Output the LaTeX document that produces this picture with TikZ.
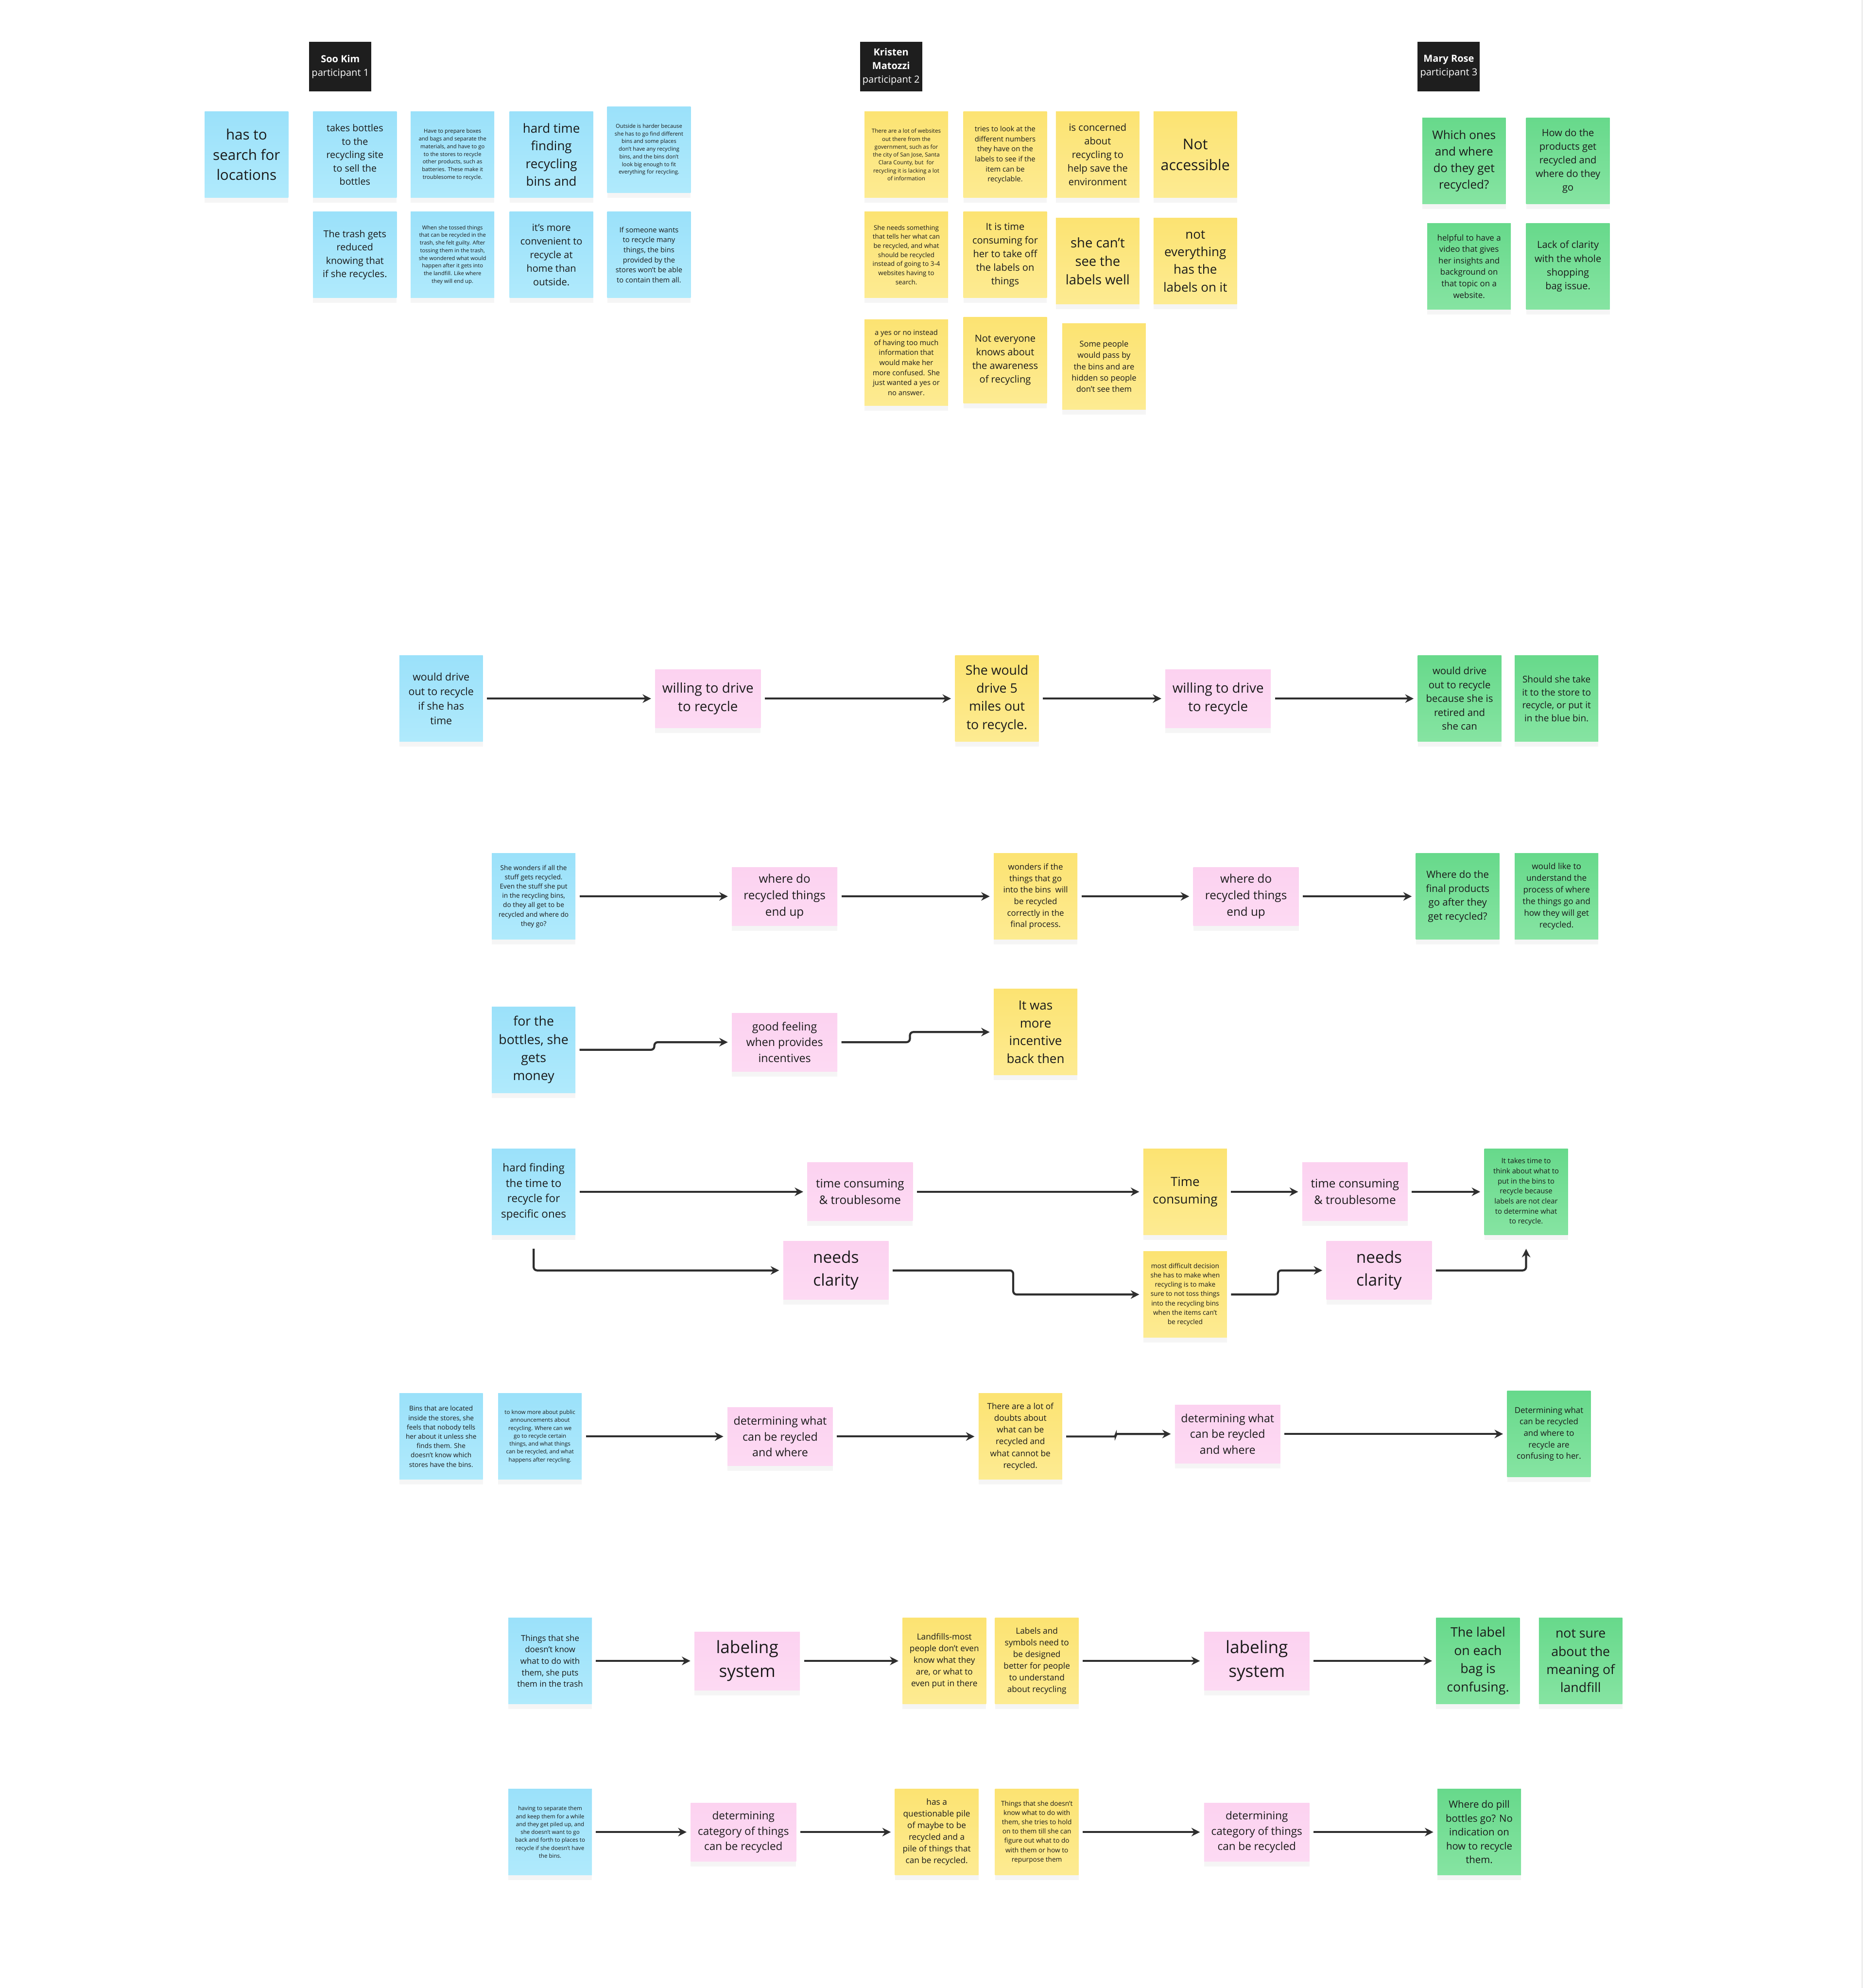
\documentclass[tikz,border=0pt]{standalone}
\usepackage{fontspec}
\setmainfont{Open Sans}
\usetikzlibrary{arrows.meta,shadows}

\definecolor{ink}{HTML}{1A1A1A}
\definecolor{headbg}{HTML}{1E1E1E}
\definecolor{arrowgray}{HTML}{2E2E2E}
\definecolor{bluetop}{HTML}{9BE1FA}
\definecolor{bluebot}{HTML}{B0EAFC}
\definecolor{yellowtop}{HTML}{FCE372}
\definecolor{yellowbot}{HTML}{FDEB92}
\definecolor{greentop}{HTML}{67D98B}
\definecolor{greenbot}{HTML}{86E4A2}
\definecolor{pinktop}{HTML}{FCD2F0}
\definecolor{pinkbot}{HTML}{FDDAF3}

\tikzset{
  fs/.style={font=\fontsize{#1pt}{\the\dimexpr#1pt*14/10\relax}\selectfont},
  note/.style={rectangle, inner sep=0pt, align=center, text=ink,
    minimum width=1.72cm, minimum height=1.77cm,
    drop shadow={opacity=0.08, shadow xshift=0pt, shadow yshift=-3pt}},
  bluenote/.style={note, top color=bluetop, bottom color=bluebot},
  yellownote/.style={note, top color=yellowtop, bottom color=yellowbot},
  greennote/.style={note, top color=greentop, bottom color=greenbot},
  pinknote/.style={note, minimum width=2.17cm, minimum height=1.2cm, top color=pinktop, bottom color=pinkbot},
  person/.style={rectangle, inner sep=0pt, align=center, fill=headbg, text=white,
    minimum width=1.28cm, minimum height=1.02cm},
  arr/.style={draw=arrowgray, line width=1.2pt, -{Stealth[length=5pt,width=5pt]},
    shorten <=2.2pt, shorten >=2.2pt},
  edge/.style={draw=black!10, line width=0.6pt}
}

\begin{document}
\begin{tikzpicture}[x=0.02609cm, y=-0.02609cm]
\useasboundingbox (0,0) rectangle (1472,1568);
\draw[edge] (1469,0) -- (1469,1568);

% participants
\node[person, fs=5.7] (sooKim) at (268.5,52.5) {\textbf{Soo Kim}\\participant 1};
\node[person, fs=5.7] (kristen) at (703,52.5) {\textbf{Kristen}\\\textbf{Matozzi}\\participant 2};
\node[person, fs=5.7] (maryRose) at (1143,52.5) {\textbf{Mary Rose}\\participant 3};

% participant 1
\node[bluenote, fs=8.4] (skSearch) at (194.5,122) {has to\\search for\\locations};
\node[bluenote, fs=5.6] (skBottles) at (280,122) {takes bottles\\to the\\recycling site\\to sell the\\bottles};
\node[bluenote, fs=3.2] (skPrepare) at (357,122) {Have to prepare boxes\\and bags and separate the\\materials, and have to go\\to the stores to recycle\\other products, such as\\batteries. These make it\\troublesome to recycle.};
\node[bluenote, fs=7.4] (skBins) at (435,122) {hard time\\finding\\recycling\\bins and};
\node[bluenote, fs=3.2] (skOutside) at (512,118) {Outside is harder because\\she has to go find different\\bins and some places\\don't have any recycling\\bins, and the bins don't\\look big enough to fit\\everything for recycling.};
\node[bluenote, fs=5.6] (skTrash) at (280,201) {The trash gets\\reduced\\knowing that\\if she recycles.};
\node[bluenote, fs=3.2] (skTossed) at (357,201) {When she tossed things\\that can be recycled in the\\trash, she felt guilty. After\\tossing them in the trash,\\she wondered what would\\happen after it gets into\\the landfill. Like where\\they will end up.};
\node[bluenote, fs=5.7] (skHome) at (435,201) {it's more\\convenient to\\recycle at\\home than\\outside.};
\node[bluenote, fs=4.2] (skMany) at (512,201) {If someone wants\\to recycle many\\things, the bins\\provided by the\\stores won't be able\\to contain them all.};

% participant 2
\node[yellownote, fs=3.3] (kmWebsites) at (715,122) {There are a lot of websites\\out there from the\\government, such as for\\the city of San Jose, Santa\\Clara County, but\ \ for\\recycling it is lacking a lot\\of information};
\node[yellownote, fs=4.2] (kmNumbers) at (793,122) {tries to look at the\\different numbers\\they have on the\\labels to see if the\\item can be\\recyclable.};
\node[yellownote, fs=5.7] (kmConcerned) at (866,122) {is concerned\\about\\recycling to\\help save the\\environment};
\node[yellownote, fs=8.6] (kmAccess) at (943,122) {Not\\accessible};
\node[yellownote, fs=3.8] (kmSomething) at (715,201) {She needs something\\that tells her what can\\be recycled, and what\\should be recycled\\instead of going to 3-4\\websites having to\\search.};
\node[yellownote, fs=5.7] (kmTime) at (793,201) {It is time\\consuming for\\her to take off\\the labels on\\things};
\node[yellownote, fs=7.8] (kmSee) at (866,206) {she can't\\see the\\labels well};
\node[yellownote, fs=7.4] (kmLabels) at (943,206) {not\\everything\\has the\\labels on it};
\node[yellownote, fs=4.2] (kmYesNo) at (715,286) {a yes or no instead\\of having too much\\information that\\would make her\\more confused. She\\just wanted a yes or\\no answer.};
\node[yellownote, fs=5.7] (kmAware) at (793,284) {Not everyone\\knows about\\the awareness\\of recycling};
\node[yellownote, fs=4.7] (kmHidden) at (871,289) {Some people\\would pass by\\the bins and are\\hidden so people\\don't see them};

% participant 3
\node[greennote, fs=6.9] (mrWhich) at (1155,127) {Which ones\\and where\\do they get\\recycled?};
\node[greennote, fs=5.7] (mrHow) at (1237,127) {How do the\\products get\\recycled and\\where do they\\go};
\node[greennote, fs=4.8] (mrVideo) at (1159,210) {helpful to have a\\video that gives\\her insights and\\background on\\that topic on a\\website.};
\node[greennote, fs=5.7] (mrBag) at (1237,210) {Lack of clarity\\with the whole\\shopping\\bag issue.};

% willing to drive
\node[bluenote, fs=6.1] (driveA) at (348,551) {would drive\\out to recycle\\if she has\\time};
\node[pinknote, fs=7.9] (willingA) at (558.5,551) {willing to drive\\to recycle};
\node[yellownote, fs=7.6] (driveB) at (786.5,551) {She would\\drive 5\\miles out\\to recycle.};
\node[pinknote, fs=7.9] (willingB) at (961,551) {willing to drive\\to recycle};
\node[greennote, fs=5.8] (driveC) at (1151.5,551) {would drive\\out to recycle\\because she is\\retired and\\she can};
\node[greennote, fs=5.4] (blueBin) at (1228,551) {Should she take\\it to the store to\\recycle, or put it\\in the blue bin.};
\draw[arr] (driveA) -- (willingA);
\draw[arr] (willingA) -- (driveB);
\draw[arr] (driveB) -- (willingB);
\draw[arr] (willingB) -- (driveC);

% where do recycled things end up
\node[bluenote, fs=3.9] (wondersA) at (421,707) {She wonders if all the\\stuff gets recycled.\\Even the stuff she put\\in the recycling bins,\\do they all get to be\\recycled and where do\\they go?};
\node[pinknote, fs=6.9] (endUpA) at (619,707) {where do\\recycled things\\end up};
\node[yellownote, fs=4.8] (wondersB) at (817,707) {wonders if the\\things that go\\into the bins\ \ will\\be recycled\\correctly in the\\final process.};
\node[pinknote, fs=6.9] (endUpB) at (983,707) {where do\\recycled things\\end up};
\node[greennote, fs=5.8] (finalC) at (1150,707) {Where do the\\final products\\go after they\\get recycled?};
\node[greennote, fs=4.9] (processC) at (1228,707) {would like to\\understand the\\process of where\\the things go and\\how they will get\\recycled.};
\draw[arr] (wondersA) -- (endUpA);
\draw[arr] (endUpA) -- (wondersB);
\draw[arr] (wondersB) -- (endUpB);
\draw[arr] (endUpB) -- (finalC);

% incentives
\node[bluenote, fs=7.6] (moneyA) at (421,828) {for the\\bottles, she\\gets\\money};
\node[pinknote, fs=6.6] (feelingA) at (619,822) {good feeling\\when provides\\incentives};
\node[yellownote, fs=7.4] (incentiveB) at (817,814) {It was\\more\\incentive\\back then};
\draw[arr, rounded corners=2pt] (moneyA.east) -- ++(62,0) |- (feelingA.west);
\draw[arr, rounded corners=2pt] (feelingA.east) -- ++(57,0) |- (incentiveB.west);

% time consuming and needs clarity
\node[bluenote, fs=6.4] (hardFindA) at (421,940) {hard finding\\the time to\\recycle for\\specific ones};
\node[pinknote, fs=6.9] (consumingA) at (678.5,940) {time consuming\\\& troublesome};
\node[yellownote, fs=7.4] (timeB) at (935,940) {Time\\consuming};
\node[pinknote, fs=6.9] (consumingB) at (1069,940) {time consuming\\\& troublesome};
\node[greennote, fs=4.2] (thinkC) at (1204,940) {It takes time to\\think about what to\\put in the bins to\\recycle because\\labels are not clear\\to determine what\\to recycle.};
\node[pinknote, fs=9.5] (clarityA) at (659.5,1002) {needs\\clarity};
\node[yellownote, fs=3.9] (difficultB) at (935,1021) {most difficult decision\\she has to make when\\recycling is to make\\sure to not toss things\\into the recycling bins\\when the items can't\\be recycled};
\node[pinknote, fs=9.5] (clarityB) at (1088,1002) {needs\\clarity};
\draw[arr] (hardFindA) -- (consumingA);
\draw[arr] (consumingA) -- (timeB);
\draw[arr] (timeB) -- (consumingB);
\draw[arr] (consumingB) -- (thinkC);
\draw[arr, rounded corners=2pt, shorten <=8pt] (hardFindA.south) |- (clarityA.west);
\draw[arr, rounded corners=2pt] (clarityA.east) -- ++(98,0) |- (difficultB.west);
\draw[arr, rounded corners=2pt] (difficultB.east) -- ++(40,0) |- (clarityB.west);
\draw[arr, rounded corners=2pt, shorten >=8pt] (clarityB.east) -| (thinkC.south);

% determining what can be recycled
\node[bluenote, fs=3.9] (storesA) at (348,1133) {Bins that are located\\inside the stores, she\\feels that nobody tells\\her about it unless she\\finds them. She\\doesn't know which\\stores have the bins.};
\node[bluenote, fs=3.3] (publicA) at (426,1133) {to know more about public\\announcements about\\recycling. Where can we\\go to recycle certain\\things, and what things\\can be recycled, and what\\happens after recycling.};
\node[pinknote, fs=6.6] (whatA) at (615.5,1133) {determining what\\can be reycled\\and where};
\node[yellownote, fs=4.9] (doubtsB) at (805,1133) {There are a lot of\\doubts about\\what can be\\recycled and\\what cannot be\\recycled.};
\node[pinknote, fs=6.6] (whatB) at (968.5,1131) {determining what\\can be reycled\\and where};
\node[greennote, fs=4.8] (confusingC) at (1222,1131) {Determining what\\can be recycled\\and where to\\recycle are\\confusing to her.};
\draw[arr] (publicA) -- (whatA);
\draw[arr] (whatA) -- (doubtsB);
\draw[arr, rounded corners=1pt] (doubtsB.east) -- ++(42,0) |- (whatB.west);
\draw[arr] (whatB) -- (confusingC);

% labeling system
\node[bluenote, fs=4.8] (trashA) at (434,1310) {Things that she\\doesn't know\\what to do with\\them, she puts\\them in the trash};
\node[pinknote, fs=10] (labelingA) at (589.5,1310) {labeling\\system};
\node[yellownote, fs=4.9] (landfillB) at (745,1310) {Landfills-most\\people don't even\\know what they\\are, or what to\\even put in there};
\node[yellownote, fs=4.9] (symbolsB) at (818,1310) {Labels and\\symbols need to\\be designed\\better for people\\to understand\\about recycling};
\node[pinknote, fs=10] (labelingB) at (991.5,1310) {labeling\\system};
\node[greennote, fs=7.6] (bagC) at (1166,1310) {The label\\on each\\bag is\\confusing.};
\node[greennote, fs=7.6] (meaningC) at (1247,1310) {not sure\\about the\\meaning of\\landfill};
\draw[arr] (trashA) -- (labelingA);
\draw[arr] (labelingA) -- (landfillB);
\draw[arr] (symbolsB) -- (labelingB);
\draw[arr] (labelingB) -- (bagC);

% determining category of things
\node[bluenote, fs=3.3] (separateA) at (434,1445) {having to separate them\\and keep them for a while\\and they get piled up, and\\she doesn't want to go\\back and forth to places to\\recycle if she doesn't have\\the bins.};
\node[pinknote, fs=6.4] (categoryA) at (586.5,1445) {determining\\category of things\\can be recycled};
\node[yellownote, fs=4.9] (pileB) at (739,1445) {has a\\questionable pile\\of maybe to be\\recycled and a\\pile of things that\\can be recycled.};
\node[yellownote, fs=3.9] (holdB) at (818,1445) {Things that she doesn't\\know what to do with\\them, she tries to hold\\on to them till she can\\figure out what to do\\with them or how to\\repurpose them};
\node[pinknote, fs=6.4] (categoryB) at (991.5,1445) {determining\\category of things\\can be recycled};
\node[greennote, fs=5.8] (pillC) at (1167,1445) {Where do pill\\bottles go? No\\indication on\\how to recycle\\them.};
\draw[arr] (separateA) -- (categoryA);
\draw[arr] (categoryA) -- (pileB);
\draw[arr] (holdB) -- (categoryB);
\draw[arr] (categoryB) -- (pillC);
\end{tikzpicture}
\end{document}
